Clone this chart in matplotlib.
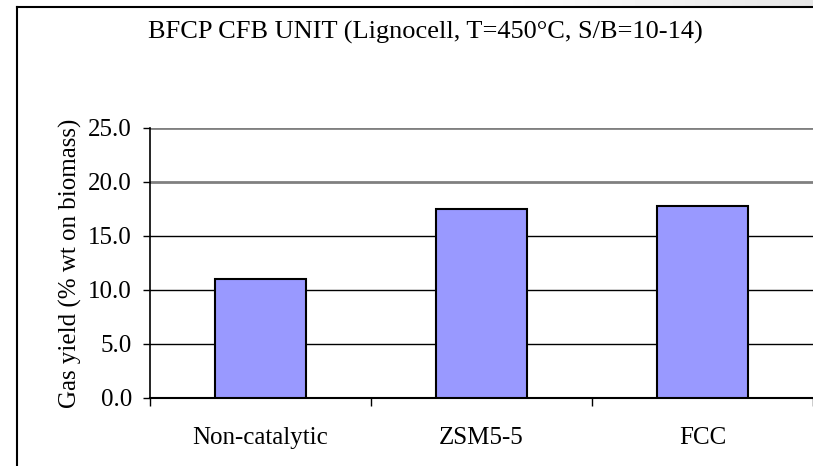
import numpy as np
import matplotlib
matplotlib.use('Agg')
import matplotlib.pyplot as plt
from matplotlib.lines import Line2D

# Данные
categories = ['Non-catalytic', 'ZSM5-5', 'FCC']
gas_yield = [11.0, 17.5, 17.8]
y_ticks = [0.0, 5.0, 10.0, 15.0, 20.0, 25.0]

plt.rcParams['font.family'] = ['Liberation Serif', 'DejaVu Serif']

fig = plt.figure(figsize=(8.13, 4.66), dpi=100)
ax = fig.add_axes([150 / 813, 68 / 466, 663 / 813, 270 / 466])

x = np.arange(len(categories))
ax.bar(x, gas_yield, width=0.41, color='#9999FF', edgecolor='black',
       linewidth=1.5, zorder=3)

ax.set_xlim(-0.5, len(categories) - 0.5)
ax.set_ylim(0, 25)
ax.set_yticks(y_ticks)
ax.set_yticklabels([f'{v:.1f}' for v in y_ticks], fontsize=18)

# деления на границах категорий, подписи по центру
ax.set_xticks(np.arange(len(categories) + 1) - 0.5)
ax.set_xticklabels([])
ax.set_xticks(x, minor=True)
ax.set_xticklabels(categories, minor=True, fontsize=18)
ax.tick_params(axis='x', which='major', direction='out', length=6, width=1)
ax.tick_params(axis='x', which='minor', length=0, pad=21)
ax.tick_params(axis='y', direction='out', length=5, width=1, pad=8)

for side in ['top', 'right']:
    ax.spines[side].set_visible(False)
ax.spines['left'].set_linewidth(1.2)
ax.spines['bottom'].set_linewidth(1.5)

# сетка как в Excel
for v in y_ticks[1:]:
    if v >= 20:
        ax.axhline(v, color='#808080', linewidth=2, zorder=1)
    else:
        ax.axhline(v, color='black', linewidth=1, zorder=1)

ax.set_ylabel('Gas yield (% wt on biomass)', fontsize=18)
ax.yaxis.set_label_coords(-0.103, 0.5)

fig.text(0.523, 0.931, 'BFCP CFB UNIT (Lignocell, T=450°C, S/B=10-14)',
         ha='center', va='center', fontsize=19)

# рамка диаграммы (обрезана справа и снизу)
fig.add_artist(Line2D([17 / 813, 17 / 813], [0, 1 - 7 / 466],
                      transform=fig.transFigure, color='black', linewidth=1.5))
fig.add_artist(Line2D([17 / 813, 1], [1 - 7 / 466, 1 - 7 / 466],
                      transform=fig.transFigure, color='black', linewidth=1.5))

# серая тень сверху справа
shade = fig.add_axes([500 / 813, 1 - 6 / 466, 313 / 813, 6 / 466])
grad = np.linspace(1.0, 0.9, 100).reshape(1, -1)
shade.imshow(grad, aspect='auto', cmap='gray', vmin=0, vmax=1)
shade.axis('off')

plt.savefig('out.png', dpi=100)
